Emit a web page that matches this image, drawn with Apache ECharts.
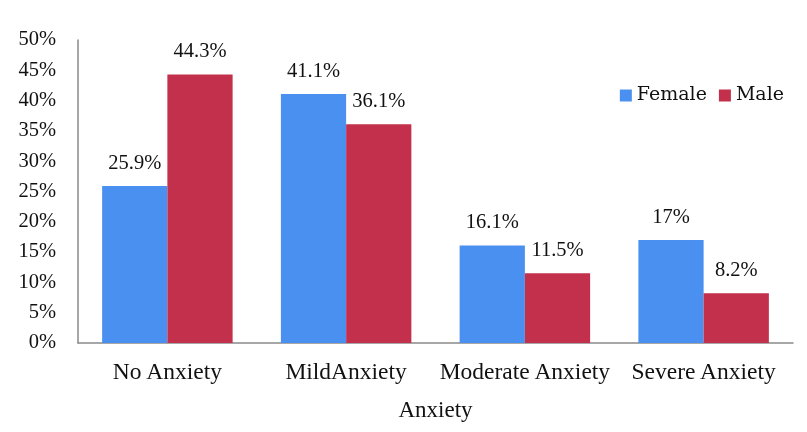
<!DOCTYPE html>
<html><head><meta charset="utf-8">
<script src="https://cdn.jsdelivr.net/npm/echarts@6/dist/echarts.min.js"></script>
<style>html,body{margin:0;padding:0;background:#fff}#c{width:807px;height:432px}</style>
</head><body><div id="c"></div>
<script>
const categories = ['No\u2009Anxiety', 'MildAnxiety', 'Moderate\u2009Anxiety', 'Severe\u2009Anxiety'];
const female = [25.9, 41.1, 16.1, 17];
const male = [44.3, 36.1, 11.5, 8.2];
const femaleLabels = ['25.9%', '41.1%', '16.1%', '17%'];
const maleLabels = ['44.3%', '36.1%', '11.5%', '8.2%'];

const font = 'Liberation Serif';
const font2 = 'DejaVu Serif';
const chart = echarts.init(document.getElementById('c'));
chart.setOption({
  animation: false,
  textStyle: { fontFamily: font },
  grid: { left: 78, right: 14, top: 40, bottom: 89, containLabel: false, outerBoundsMode: 'none' },
  legend: {
    right: 18, top: 81, itemWidth: 12, itemHeight: 12, itemGap: 12,
    icon: 'rect',
    textStyle: { fontFamily: font2, fontSize: 19, color: '#111' },
    data: ['Female', 'Male']
  },
  xAxis: {
    type: 'category', data: categories,
    name: 'Anxiety', nameLocation: 'middle', nameGap: 56,
    nameTextStyle: { fontFamily: font, fontSize: 23, color: '#111' },
    axisLine: { lineStyle: { color: '#8a8a8a', width: 1.5 } },
    axisTick: { show: false },
    axisLabel: { interval: 0, fontFamily: font, fontSize: 23.5, color: '#111', margin: 18 }
  },
  yAxis: {
    type: 'value', min: 0, max: 50, interval: 5,
    axisLine: { show: true, lineStyle: { color: '#8a8a8a', width: 1.5 } },
    axisTick: { show: false },
    splitLine: { show: false },
    axisLabel: { formatter: '{value}%', fontFamily: font, fontSize: 20.5, color: '#111', margin: 22 }
  },
  series: [
    {
      name: 'Female', type: 'bar', data: female, barGap: '0%', barCategoryGap: '27%',
      itemStyle: { color: '#4a90f0' },
      label: { show: true, position: 'top', distance: 12, fontFamily: font, fontSize: 20.5, color: '#111',
        formatter: p => femaleLabels[p.dataIndex] }
    },
    {
      name: 'Male', type: 'bar', data: male, barGap: '0%', barCategoryGap: '27%',
      itemStyle: { color: '#c3304b' },
      label: { show: true, position: 'top', distance: 12, fontFamily: font, fontSize: 20.5, color: '#111',
        formatter: p => maleLabels[p.dataIndex] }
    }
  ]
});
</script></body></html>
